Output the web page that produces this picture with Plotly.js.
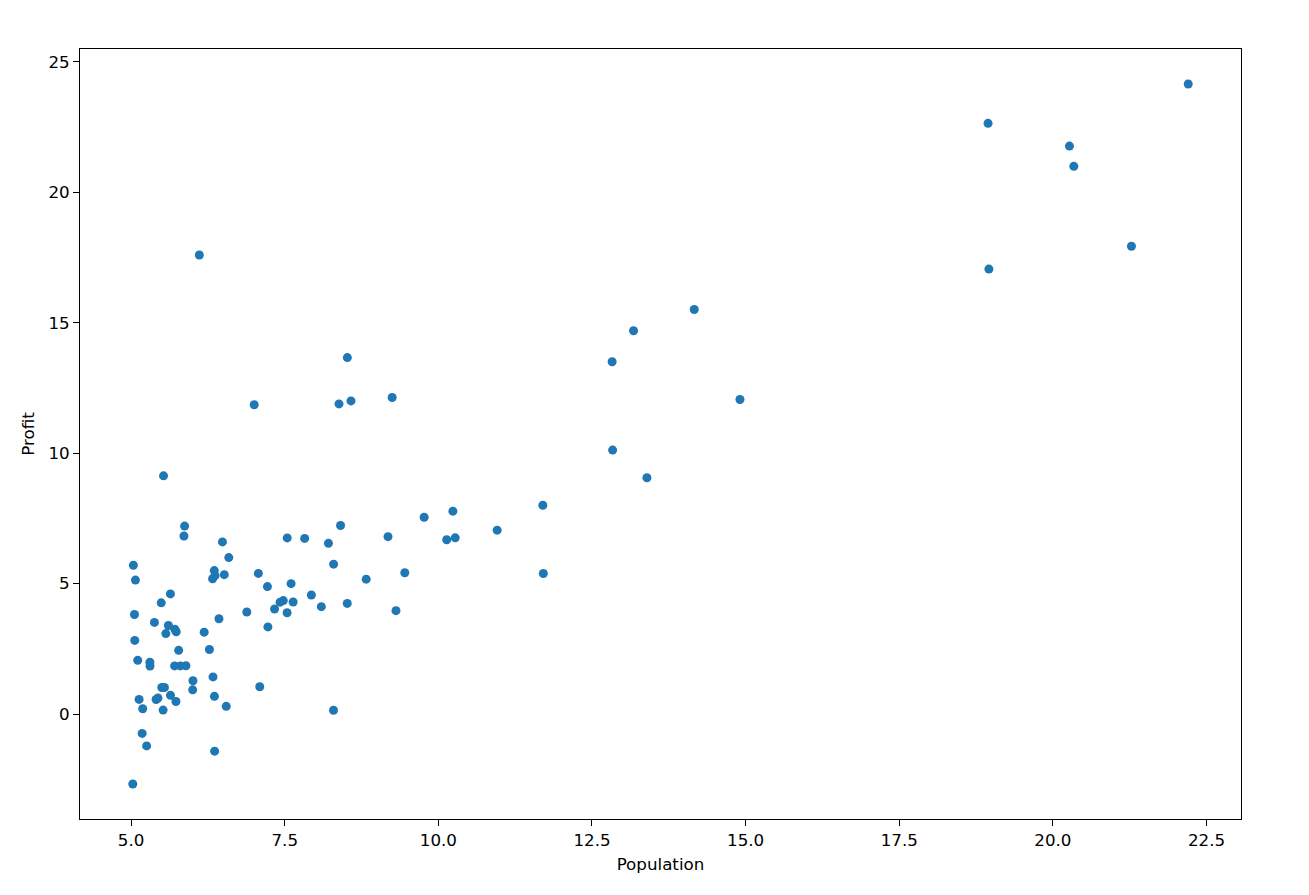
<!DOCTYPE html>
<html>
<head>
<meta charset="utf-8">
<script src="https://cdn.plot.ly/plotly-3.0.1.min.js"></script>
<style>html,body{margin:0;padding:0;background:#fff;}#chart{width:1309px;height:895px;}</style>
</head>
<body>
<div id="chart"></div>
<script>
const population = [6.1101,5.5277,8.5186,7.0032,5.8598,8.3829,7.4764,8.5781,6.4862,5.0546,5.7107,14.164,5.734,8.4084,5.6407,5.3794,6.3654,5.1301,6.4296,7.0708,6.1891,20.27,5.4901,6.3261,5.5649,18.945,12.828,10.957,13.176,22.203,5.2524,6.5894,9.2482,5.8918,8.2111,7.9334,8.0959,5.6063,12.836,6.3534,5.4069,6.8825,11.708,5.7737,7.8247,7.0931,5.0702,5.8014,11.7,5.5416,7.5402,5.3077,7.4239,7.6031,6.3328,6.3589,6.2742,5.6397,9.3102,9.4536,8.8254,5.1793,21.279,14.908,18.959,7.2182,8.2951,10.236,5.4994,20.341,10.136,7.3345,6.0062,7.2259,5.0269,6.5479,7.5386,5.0365,10.274,5.1077,5.7292,5.1884,6.3557,9.7687,6.5159,8.5172,9.1802,6.002,5.5204,5.0594,5.7077,7.6366,5.8707,5.3054,8.2934,13.394,5.4369];
const profit = [17.592,9.1302,13.662,11.854,6.8233,11.886,4.3483,12,6.5987,3.8166,3.2522,15.505,3.1551,7.2258,0.71618,3.5129,5.3048,0.56077,3.6518,5.3893,3.1386,21.767,4.263,5.1875,3.0825,22.638,13.501,7.0467,14.692,24.147,-1.22,5.9966,12.134,1.8495,6.5426,4.5623,4.1164,3.3928,10.117,5.4974,0.55657,3.9115,5.3854,2.4406,6.7318,1.0463,5.1337,1.844,8.0043,1.0179,6.7504,1.8396,4.2885,4.9981,1.4233,-1.4211,2.4756,4.6042,3.9624,5.4141,5.1694,-0.74279,17.929,12.054,17.054,4.8852,5.7442,7.7754,1.0173,20.992,6.6799,4.0259,1.2784,3.3411,-2.6807,0.29678,3.8845,5.7014,6.7526,2.0576,0.47953,0.20421,0.67861,7.5435,5.3436,4.2415,6.7981,0.92695,0.152,2.8214,1.8451,4.2959,7.2029,1.9869,0.14454,9.0551,0.61705];
const xTicks = [5.0,7.5,10.0,12.5,15.0,17.5,20.0,22.5];
const yTicks = [0,5,10,15,20,25];

function padRange(arr){const mn=Math.min(...arr),mx=Math.max(...arr),p=(mx-mn)*0.05;return [mn-p,mx+p];}

const FONT = 'DejaVu Sans';
const FS = 16.7;
const axisCommon = {
  showgrid:false, zeroline:false, showline:true, mirror:true,
  linecolor:'#000', linewidth:1, ticks:'outside', ticklen:6, tickwidth:1, tickcolor:'#000',
  tickfont:{family:FONT, size:FS, color:'#000'}
};
const trace = {
  x: population, y: profit, type:'scatter', mode:'markers',
  marker:{color:'#1f77b4', size:9, line:{width:0}}
};
const layout = {
  width:1309, height:895,
  margin:{l:80, r:68, t:49, b:76},
  paper_bgcolor:'#fff', plot_bgcolor:'#fff',
  showlegend:false,
  xaxis: Object.assign({}, axisCommon, {
    range: padRange(population), tickmode:'array', tickvals:xTicks,
    ticktext: xTicks.map(v=>v.toFixed(1)),
    title:{text:'Population', font:{family:FONT, size:FS, color:'#000'}, standoff:9}
  }),
  yaxis: Object.assign({}, axisCommon, {
    range: padRange(profit), tickmode:'array', tickvals:yTicks,
    ticktext: yTicks.map(v=>String(v)),
    title:{text:'Profit', font:{family:FONT, size:FS, color:'#000'}, standoff:9}
  })
};
Plotly.newPlot('chart', [trace], layout, {displayModeBar:false, staticPlot:true});
</script>
</body>
</html>
